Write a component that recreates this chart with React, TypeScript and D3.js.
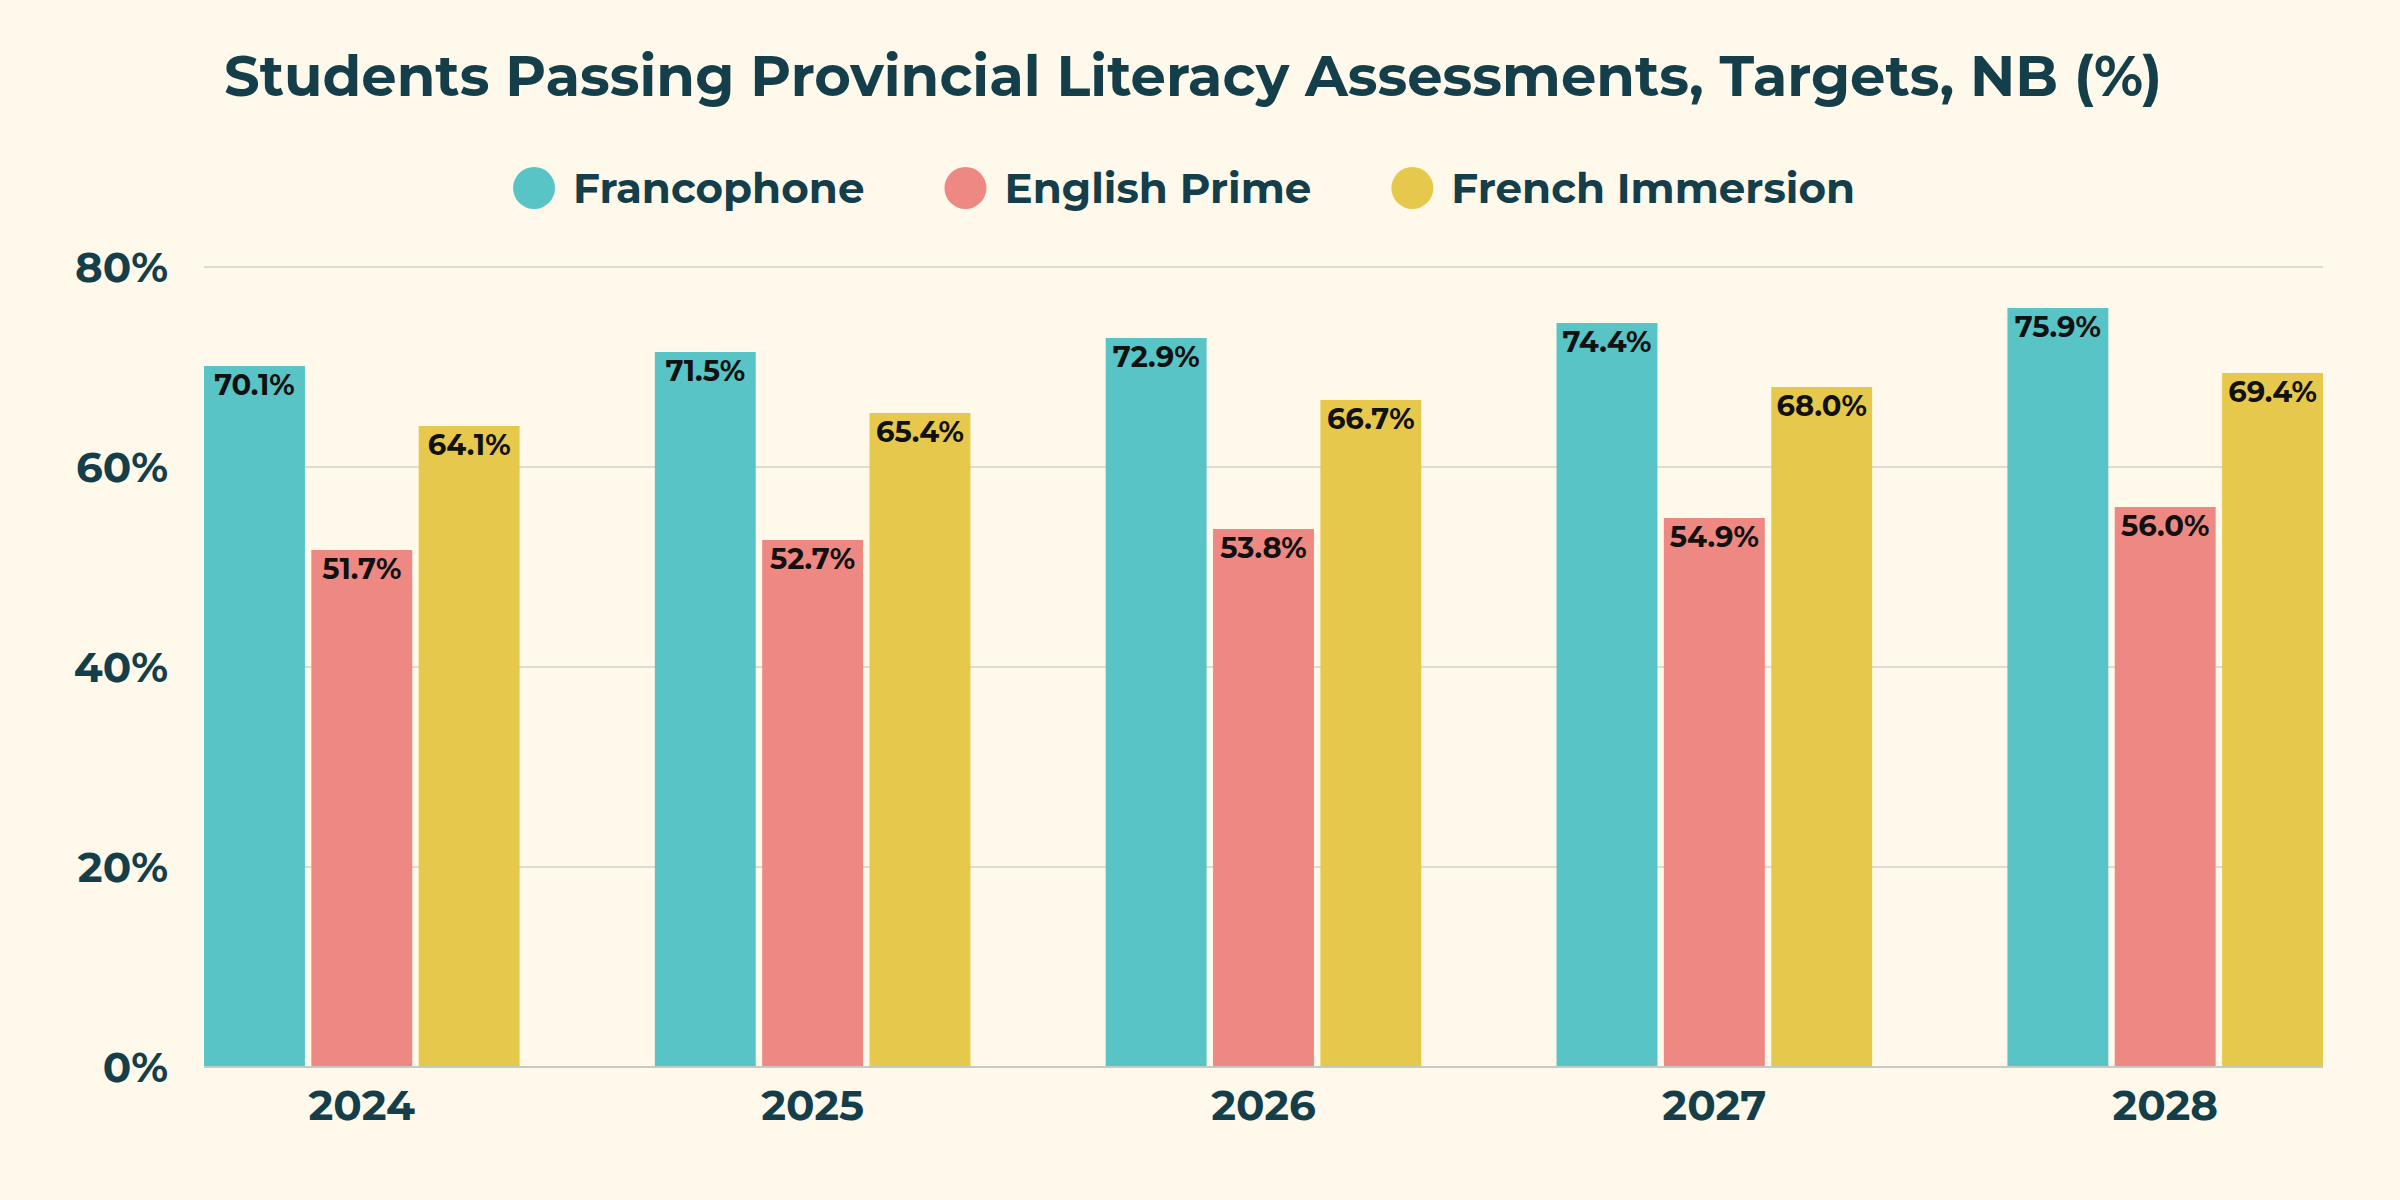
import { useEffect, useRef } from 'react';
import * as d3 from 'd3';

const years = ['2024', '2025', '2026', '2027', '2028'];
const seriesNames = ['Francophone', 'English Prime', 'French Immersion'];
const francophone = [70.1, 71.5, 72.9, 74.4, 75.9];
const englishPrime = [51.7, 52.7, 53.8, 54.9, 56.0];
const frenchImmersion = [64.1, 65.4, 66.7, 68.0, 69.4];
const yTicks = [0, 20, 40, 60, 80];

const colors = ['#58c4c6', '#ee8882', '#e6c94c'];
const FONT = "Montserrat, Inter, 'Noto Sans', sans-serif";
const DARK = '#143e4a';

export default function App() {
  const svgRef = useRef<SVGSVGElement>(null);

  useEffect(() => {
    document.body.style.margin = '0';
    if (!svgRef.current) return;

    const W = 2400;
    const H = 1200;
    const margin = { top: 267, right: 77, bottom: 133, left: 204 };
    const width = W - margin.left - margin.right;
    const chartHeight = H - margin.top - margin.bottom;

    const svg = d3.select(svgRef.current);
    svg.selectAll('*').remove();
    svg.attr('width', W).attr('height', H);

    svg.append('rect').attr('width', W).attr('height', H).attr('fill', '#fef9ea');

    // Title
    svg
      .append('text')
      .attr('x', 1193)
      .attr('y', 96)
      .attr('text-anchor', 'middle')
      .attr('fill', DARK)
      .attr('font-family', FONT)
      .attr('font-weight', 700)
      .attr('font-size', '56px')
      .text('Students Passing Provincial Literacy Assessments, Targets, NB (%)');

    const g = svg.append('g').attr('transform', `translate(${margin.left},${margin.top})`);

    const x0 = d3.scaleBand().domain(years).range([0, width]).paddingInner(0.3).paddingOuter(0);
    const x1 = d3.scaleBand().domain(seriesNames).range([0, x0.bandwidth()]).paddingInner(0.06);
    const y = d3.scaleLinear().domain([0, 80]).range([chartHeight, 0]);

    // Grid lines
    g.append('g')
      .selectAll('line')
      .data(yTicks.filter((t) => t > 0))
      .enter()
      .append('line')
      .attr('x1', 0)
      .attr('x2', width)
      .attr('y1', (d) => y(d))
      .attr('y2', (d) => y(d))
      .attr('stroke', '#dcdcd2')
      .attr('stroke-width', 2);

    // Y tick labels
    g.append('g')
      .selectAll('text')
      .data(yTicks)
      .enter()
      .append('text')
      .attr('x', -36)
      .attr('y', (d) => y(d))
      .attr('dy', '0.36em')
      .attr('text-anchor', 'end')
      .attr('fill', DARK)
      .attr('font-family', FONT)
      .attr('font-weight', 700)
      .attr('font-size', '42px')
      .text((d) => `${d}%`);

    const values = [francophone, englishPrime, frenchImmersion];
    const rows = years.map((yr, i) => ({
      year: yr,
      items: seriesNames.map((s, k) => ({ series: s, value: values[k][i], color: colors[k] })),
    }));

    const groups = g
      .selectAll('.grp')
      .data(rows)
      .enter()
      .append('g')
      .attr('class', 'grp')
      .attr('transform', (d) => `translate(${x0(d.year)},0)`);

    groups
      .selectAll('rect')
      .data((d) => d.items)
      .enter()
      .append('rect')
      .attr('x', (d) => x1(d.series) || 0)
      .attr('y', (d) => y(d.value))
      .attr('width', x1.bandwidth())
      .attr('height', (d) => chartHeight - y(d.value))
      .attr('fill', (d) => d.color);

    groups
      .selectAll('.val')
      .data((d) => d.items)
      .enter()
      .append('text')
      .attr('class', 'val')
      .attr('x', (d) => (x1(d.series) || 0) + x1.bandwidth() / 2)
      .attr('y', (d) => y(d.value) + 29)
      .attr('text-anchor', 'middle')
      .attr('fill', '#111111')
      .attr('font-family', FONT)
      .attr('font-weight', 700)
      .attr('font-size', '29px')
      .text((d) => `${d.value.toFixed(1)}%`);

    // Baseline
    g.append('line')
      .attr('x1', 0)
      .attr('x2', width)
      .attr('y1', chartHeight)
      .attr('y2', chartHeight)
      .attr('stroke', '#c4cac4')
      .attr('stroke-width', 2);

    // X labels
    g.append('g')
      .selectAll('text')
      .data(years)
      .enter()
      .append('text')
      .attr('x', (d) => (x0(d) || 0) + x0.bandwidth() / 2)
      .attr('y', chartHeight + 53)
      .attr('text-anchor', 'middle')
      .attr('fill', DARK)
      .attr('font-family', FONT)
      .attr('font-weight', 700)
      .attr('font-size', '42px')
      .text((d) => d);

    // Legend, centered
    const legend = svg.append('g').attr('transform', 'translate(0,188)');
    const items = legend
      .selectAll('g')
      .data(seriesNames)
      .enter()
      .append('g');
    items
      .append('circle')
      .attr('r', 21)
      .attr('cy', 0)
      .attr('fill', (_, i) => colors[i]);
    items
      .append('text')
      .attr('x', 39)
      .attr('dy', '0.36em')
      .attr('fill', DARK)
      .attr('font-family', FONT)
      .attr('font-weight', 700)
      .attr('font-size', '42px')
      .text((d) => d);

    const gap = 80;
    const widths: number[] = [];
    items.each(function () {
      const t = d3.select(this).select('text').node() as SVGTextElement;
      widths.push(21 + 39 + t.getComputedTextLength());
    });
    const total = d3.sum(widths) + gap * (widths.length - 1);
    let cursor = 1184 - total / 2 + 21;
    items.attr('transform', (_, i) => {
      const pos = cursor;
      cursor += widths[i] + gap;
      return `translate(${pos},0)`;
    });
  }, []);

  return (
    <div>
      <svg ref={svgRef} style={{ display: 'block' }} />
    </div>
  );
}
